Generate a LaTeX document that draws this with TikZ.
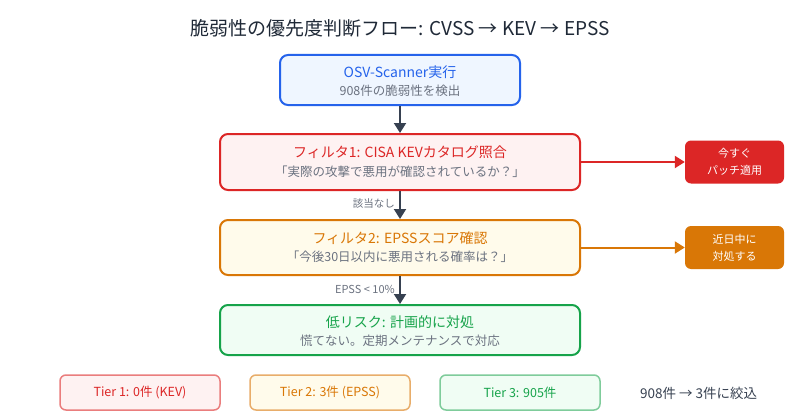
\documentclass[tikz,border=0pt]{standalone}
\usepackage{fontspec}
\setmainfont{Noto Sans CJK JP}
\usetikzlibrary{arrows.meta}
\definecolor{blueB}{HTML}{2563EB}
\definecolor{blueF}{HTML}{EFF6FF}
\definecolor{redB}{HTML}{DC2626}
\definecolor{redF}{HTML}{FEF2F2}
\definecolor{orgB}{HTML}{D97706}
\definecolor{orgF}{HTML}{FFFBEB}
\definecolor{grnB}{HTML}{16A34A}
\definecolor{grnF}{HTML}{F0FDF4}
\definecolor{subG}{HTML}{6B7280}
\definecolor{arrC}{HTML}{374151}
\definecolor{titC}{HTML}{1F2937}
\begin{document}
\begin{tikzpicture}[x=1pt,y=-1pt,
  mainbox/.style={draw, line width=2pt, rounded corners=8pt, inner sep=0pt},
  sidebox/.style={rounded corners=6pt, inner sep=0pt, minimum width=99pt, minimum height=43pt,
    text=white, align=center, font=\fontsize{11}{17}\selectfont},
  tierbox/.style={draw, line width=1.5pt, rounded corners=6pt, inner sep=0pt,
    minimum width=160pt, minimum height=35pt, font=\fontsize{12.5}{15}\selectfont},
  ttl/.style={font=\fontsize{14}{16}\selectfont, inner sep=0pt},
  sub/.style={font=\fontsize{12.5}{15}\selectfont, text=subG, inner sep=0pt},
  lbl/.style={font=\fontsize{10.5}{12}\selectfont, text=subG, inner sep=0pt, anchor=east},
  arr/.style={draw=arrC, line width=2pt, -{Triangle[length=10pt,width=12pt]}},
  sarr/.style={line width=2pt, -{Triangle[length=10pt,width=12pt]}}
]
\useasboundingbox (0,0) rectangle (800,420);
\fill[white] (0,0) rectangle (800,420);

\node[font=\fontsize{19}{21}\selectfont, text=titC, inner sep=0pt] (title) at (400,28)
  {脆弱性の優先度判断フロー: CVSS → KEV → EPSS};

% main boxes
\node[mainbox, draw=blueB, fill=blueF, minimum width=240pt, minimum height=50pt] (b1) at (400,80) {};
\node[ttl, text=blueB] (b1t) at (400,72) {OSV-Scanner実行};
\node[sub] (b1s) at (400,91) {908件の脆弱性を検出};

\node[mainbox, draw=redB, fill=redF, minimum width=360pt, minimum height=56pt] (b2) at (400,162) {};
\node[ttl, text=redB] (b2t) at (400,152) {フィルタ1: CISA KEVカタログ照合};
\node[sub] (b2s) at (400,172) {「実際の攻撃で悪用が確認されているか？」};

\node[mainbox, draw=orgB, fill=orgF, minimum width=360pt, minimum height=55pt] (b3) at (400,247.5) {};
\node[ttl, text=orgB] (b3t) at (400,238) {フィルタ2: EPSSスコア確認};
\node[sub] (b3s) at (400,257) {「今後30日以内に悪用される確率は？」};

\node[mainbox, draw=grnB, fill=grnF, minimum width=360pt, minimum height=50pt] (b4) at (400,330) {};
\node[ttl, text=grnB] (b4t) at (400,322) {低リスク: 計画的に対処};
\node[sub] (b4s) at (400,341) {慌てない。定期メンテナンスで対応};

% side boxes
\node[sidebox, fill=redB] (r1) at (734.5,162) {今すぐ\\パッチ適用};
\node[sidebox, fill=orgB] (o1) at (734.5,247.5) {近日中に\\対処する};

% connectors
\draw[arr] (b1) -- (b2);
\draw[arr] (b2) -- (b3);
\draw[arr] (b3) -- (b4);
\draw[sarr, draw=redB, fill=redB] (b2) -- (r1);
\draw[sarr, draw=orgB, fill=orgB] (b3) -- (o1);

\node[lbl] (l1) at (395,204) {該当なし};
\node[lbl, font=\fontsize{11}{12}\selectfont] (l2) at (395,289) {EPSS < 10\%};

% tiers
\node[tierbox, draw=redB!60, fill=redF, text=redB] (t1) at (140,392.5) {Tier 1: 0件 (KEV)};
\node[tierbox, draw=orgB!60, fill=orgF, text=orgB] (t2) at (330,392.5) {Tier 2: 3件 (EPSS)};
\node[tierbox, draw=grnB!55, fill=grnF, text=grnB] (t3) at (520,392.5) {Tier 3: 905件};
\node[font=\fontsize{13.5}{15}\selectfont, text=arrC, anchor=west, inner sep=0pt] (sum) at (640,393) {908件 → 3件に絞込};
\end{tikzpicture}
\end{document}
